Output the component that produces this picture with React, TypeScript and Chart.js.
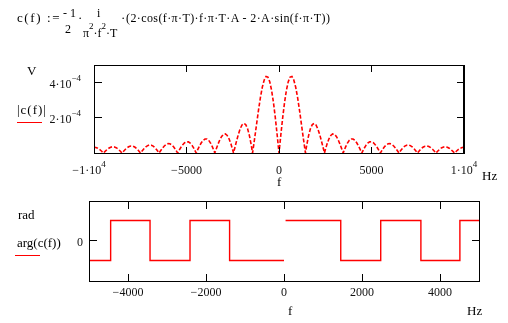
import React, { useEffect, useRef } from "react";
import { Chart, registerables } from "chart.js";

Chart.register(...registerables);

// |c(f)| — frequency (Hz) and magnitude (units of 1e-4 V)
const magFreqNegHz = [
  -10000, -9900, -9800, -9700, -9600, -9500, -9489,
  -9400, -9300, -9200, -9100, -9000, -8900, -8800, -8700, -8600, -8500, -8488,
  -8400, -8300, -8200, -8100, -8000, -7900, -7800, -7700, -7600, -7500, -7487,
  -7400, -7300, -7200, -7100, -7000, -6900, -6800, -6700, -6600, -6500, -6484,
  -6400, -6300, -6200, -6100, -6000, -5900, -5800, -5700, -5600, -5500, -5482,
  -5400, -5300, -5200, -5100, -5000, -4900, -4800, -4700, -4600, -4500, -4477,
  -4400, -4300, -4200, -4100, -4000, -3900, -3800, -3700, -3600, -3500, -3471,
  -3400, -3300, -3200, -3100, -3000, -2900, -2800, -2700, -2600, -2500, -2459,
  -2400, -2300, -2200, -2100, -2000, -1900, -1800, -1700, -1600, -1500, -1430,
  -1400, -1300, -1200, -1100, -1000, -900, -800, -700, -600, -500, -400, -300, -200, -100,
];
const magNegE4 = [
  0.318, 0.309, 0.269, 0.202, 0.113, 0.011, 0,
  0.094, 0.192, 0.273, 0.329, 0.354, 0.344, 0.3, 0.226, 0.127, 0.014, 0,
  0.103, 0.214, 0.305, 0.369, 0.398, 0.388, 0.34, 0.257, 0.146, 0.018, 0,
  0.115, 0.241, 0.346, 0.42, 0.455, 0.445, 0.392, 0.298, 0.171, 0.024, 0,
  0.13, 0.276, 0.4, 0.488, 0.531, 0.522, 0.462, 0.353, 0.206, 0.033, 0,
  0.149, 0.324, 0.473, 0.582, 0.637, 0.631, 0.562, 0.435, 0.259, 0.05, 0,
  0.174, 0.391, 0.579, 0.72, 0.796, 0.797, 0.719, 0.566, 0.348, 0.083, 0,
  0.206, 0.492, 0.747, 0.944, 1.061, 1.081, 0.996, 0.805, 0.521, 0.162, 0,
  0.243, 0.659, 1.047, 1.371, 1.592, 1.68, 1.614, 1.384, 0.991, 0.45, 0,
  0.211, 0.954, 1.732, 2.493, 3.183, 3.75, 4.15, 4.346, 4.316, 4.053, 3.563, 2.871, 2.013, 1.037,
];
const magFreqPosHz = [
  0, 100, 200, 300, 400, 500, 600, 700, 800, 900, 1000, 1100, 1200, 1300, 1400, 1430,
  1500, 1600, 1700, 1800, 1900, 2000, 2100, 2200, 2300, 2400, 2459,
  2500, 2600, 2700, 2800, 2900, 3000, 3100, 3200, 3300, 3400, 3471,
  3500, 3600, 3700, 3800, 3900, 4000, 4100, 4200, 4300, 4400, 4477,
  4500, 4600, 4700, 4800, 4900, 5000, 5100, 5200, 5300, 5400, 5482,
  5500, 5600, 5700, 5800, 5900, 6000, 6100, 6200, 6300, 6400, 6484,
  6500, 6600, 6700, 6800, 6900, 7000, 7100, 7200, 7300, 7400, 7487,
  7500, 7600, 7700, 7800, 7900, 8000, 8100, 8200, 8300, 8400, 8488,
  8500, 8600, 8700, 8800, 8900, 9000, 9100, 9200, 9300, 9400, 9489,
  9500, 9600, 9700, 9800, 9900, 10000,
];
const magPosE4 = [
  0, 1.037, 2.013, 2.871, 3.563, 4.053, 4.316, 4.346, 4.15, 3.75, 3.183, 2.493, 1.732, 0.954, 0.211, 0,
  0.45, 0.991, 1.384, 1.614, 1.68, 1.592, 1.371, 1.047, 0.659, 0.243, 0,
  0.162, 0.521, 0.805, 0.996, 1.081, 1.061, 0.944, 0.747, 0.492, 0.206, 0,
  0.083, 0.348, 0.566, 0.719, 0.797, 0.796, 0.72, 0.579, 0.391, 0.174, 0,
  0.05, 0.259, 0.435, 0.562, 0.631, 0.637, 0.582, 0.473, 0.324, 0.149, 0,
  0.033, 0.206, 0.353, 0.462, 0.522, 0.531, 0.488, 0.4, 0.276, 0.13, 0,
  0.024, 0.171, 0.298, 0.392, 0.445, 0.455, 0.42, 0.346, 0.241, 0.115, 0,
  0.018, 0.146, 0.257, 0.34, 0.388, 0.398, 0.369, 0.305, 0.214, 0.103, 0,
  0.014, 0.127, 0.226, 0.3, 0.344, 0.354, 0.329, 0.273, 0.192, 0.094, 0,
  0.011, 0.113, 0.202, 0.269, 0.309, 0.318,
];

// arg(c(f)) — frequency (Hz) and phase (rad) (null = gap at f = 0)
const argFreqHz = [
  -5000, -4445, -4445, -3435, -3435, -2410, -2410, -1395, -1395, 0, 20,
  40, 1455, 1455, 2480, 2480, 3510, 3510, 4510, 4510, 5000,
];
const argRad: (number | null)[] = [
  -1.571, -1.571, 1.571, 1.571, -1.571, -1.571, 1.571, 1.571, -1.571, -1.571, null,
  1.571, 1.571, -1.571, -1.571, 1.571, 1.571, -1.571, -1.571, 1.571, 1.571,
];

// ticks
const topXTicks = [-10000, -5000, 0, 5000, 10000];
const topXTickLabels: [string, string][] = [
  ["\u22121\u00b710", "4"], ["\u22125000", ""], ["0", ""], ["5000", ""], ["1\u00b710", "4"],
];
const topXLabelDx = [-5, 0, 0, 0, 0];
const topYTicks = [2, 4];
const topYTickLabels: [string, string][] = [["2\u00b710", "\u22124"], ["4\u00b710", "\u22124"]];
const botXTicks = [-4000, -2000, 0, 2000, 4000];
const botXTickLabels: [string, string][] = [
  ["\u22124000", ""], ["\u22122000", ""], ["0", ""], ["2000", ""], ["4000", ""],
];
const botXLabelDx = [0, 0, 0, 0, 0];
const botYTicks = [0];
const botYTickLabels: [string, string][] = [["0", ""]];

const SERIF = '"Liberation Serif", "Times New Roman", serif';

type FrameCfg = {
  xTicks: number[]; xLabels: [string, string][]; xDx: number[];
  yTicks: number[]; yLabels: [string, string][];
  xTickLen: number; yTickLen: number;
  xLabelGap: number; yLabelGap: number; yLabelDy: number; supRaise: number;
  thickRight?: boolean;
};

function drawLabel(ctx: CanvasRenderingContext2D, main: string, sup: string, x: number, base: number, align: "center" | "right", raise: number) {
  ctx.font = `12px ${SERIF}`;
  const wm = ctx.measureText(main).width;
  ctx.font = `9px ${SERIF}`;
  const ws = sup ? ctx.measureText(sup).width : 0;
  const total = wm + ws;
  const x0 = align === "center" ? x - total / 2 : x - total;
  ctx.textAlign = "left";
  ctx.textBaseline = "alphabetic";
  ctx.font = `12px ${SERIF}`;
  ctx.fillText(main, x0, base);
  if (sup) {
    ctx.font = `9px ${SERIF}`;
    ctx.fillText(sup, x0 + wm, base - raise);
  }
}

function framePlugin(cfg: FrameCfg) {
  return {
    id: "mcFrame",
    afterDatasetsDraw(chart: any) {
      const { ctx, chartArea: a, scales } = chart;
      const xs = scales.x, ys = scales.y;
      ctx.save();
      ctx.strokeStyle = "#000";
      ctx.lineWidth = 1;
      ctx.strokeRect(a.left + 0.5, a.top + 0.5, a.right - a.left, a.bottom - a.top);
      ctx.beginPath();
      if (cfg.thickRight) {
        ctx.moveTo(a.right - 0.5, a.top);
        ctx.lineTo(a.right - 0.5, a.bottom + 1);
      }
      cfg.xTicks.forEach((v) => {
        const p = Math.floor(xs.getPixelForValue(v)) + 0.5;
        ctx.moveTo(p, a.top);
        ctx.lineTo(p, a.top + cfg.xTickLen);
        ctx.moveTo(p, a.bottom + 1);
        ctx.lineTo(p, a.bottom + 1 - cfg.xTickLen);
      });
      cfg.yTicks.forEach((v) => {
        const p = Math.floor(ys.getPixelForValue(v)) + 0.5;
        ctx.moveTo(a.left, p);
        ctx.lineTo(a.left + cfg.yTickLen, p);
        ctx.moveTo(a.right + 1, p);
        ctx.lineTo(a.right + 1 - cfg.yTickLen, p);
      });
      ctx.stroke();
      ctx.fillStyle = "#111";
      cfg.xTicks.forEach((v, i) => {
        const [m, s] = cfg.xLabels[i];
        drawLabel(ctx, m, s, xs.getPixelForValue(v) + cfg.xDx[i], a.bottom + cfg.xLabelGap, "center", cfg.supRaise);
      });
      cfg.yTicks.forEach((v, i) => {
        const [m, s] = cfg.yLabels[i];
        drawLabel(ctx, m, s, a.left - cfg.yLabelGap, Math.floor(ys.getPixelForValue(v)) + cfg.yLabelDy, "right", cfg.supRaise - 0.5);
      });
      ctx.restore();
    },
  };
}

function Txt(props: { x: number; b: number; size?: number; ls?: number; children: React.ReactNode }) {
  const size = props.size ?? 13;
  return (
    <div
      style={{
        position: "absolute",
        left: props.x,
        top: props.b - 0.8375 * size,
        fontSize: size,
        lineHeight: `${size}px`,
        fontFamily: SERIF,
        whiteSpace: "nowrap",
        letterSpacing: props.ls ?? 0,
        color: "#000",
      }}
    >
      {props.children}
    </div>
  );
}

const supStyle: React.CSSProperties = { fontSize: 9, position: "relative", top: -8 };

export default function App() {
  const topRef = useRef<HTMLCanvasElement>(null);
  const botRef = useRef<HTMLCanvasElement>(null);

  useEffect(() => {
    const magPts = [
      ...magFreqNegHz.map((f, i) => ({ x: f, y: magNegE4[i] })),
      ...magFreqPosHz.map((f, i) => ({ x: f, y: magPosE4[i] })),
    ];
    const argPts = argFreqHz.map((f, i) => ({ x: f, y: argRad[i] }));

    const top = new Chart(topRef.current!, {
      type: "line",
      data: {
        datasets: [
          {
            data: magPts as any,
            borderColor: "#ff0000",
            borderWidth: 1.6,
            borderDash: [4, 2],
            pointRadius: 0,
            fill: false,
            tension: 0,
          },
        ],
      },
      options: {
        animation: false,
        responsive: false,
        maintainAspectRatio: false,
        events: [],
        layout: { padding: { left: 94, top: 65, right: 44, bottom: 170 } },
        plugins: { legend: { display: false }, tooltip: { enabled: false } },
        scales: {
          x: { type: "linear", display: false, min: -10000, max: 10000 },
          y: { type: "linear", display: false, min: 0, max: 5 },
        },
      },
      plugins: [
        framePlugin({
          xTicks: topXTicks, xLabels: topXTickLabels, xDx: topXLabelDx,
          yTicks: topYTicks, yLabels: topYTickLabels,
          xTickLen: 7, yTickLen: 8, xLabelGap: 21, yLabelGap: 13, yLabelDy: 5.5, supRaise: 7.5,
          thickRight: true,
        }) as any,
      ],
    });

    const bot = new Chart(botRef.current!, {
      type: "line",
      data: {
        datasets: [
          {
            data: argPts as any,
            borderColor: "#ff0000",
            borderWidth: 1.4,
            pointRadius: 0,
            fill: false,
            tension: 0,
            spanGaps: false,
          },
        ],
      },
      options: {
        animation: false,
        responsive: false,
        maintainAspectRatio: false,
        events: [],
        layout: { padding: { left: 89, top: 201, right: 29, bottom: 42 } },
        plugins: { legend: { display: false }, tooltip: { enabled: false } },
        scales: {
          x: { type: "linear", display: false, min: -5000, max: 5000 },
          y: { type: "linear", display: false, min: -3.18, max: 3.1 },
        },
      },
      plugins: [
        framePlugin({
          xTicks: botXTicks, xLabels: botXTickLabels, xDx: botXLabelDx,
          yTicks: botYTicks, yLabels: botYTickLabels,
          xTickLen: 8, yTickLen: 8, xLabelGap: 14.5, yLabelGap: 6, yLabelDy: 6, supRaise: 7,
        }) as any,
      ],
    });

    return () => {
      top.destroy();
      bot.destroy();
    };
  }, []);

  const canvasStyle: React.CSSProperties = { position: "absolute", left: 0, top: 0, width: 508, height: 323 };

  return (
    <div style={{ position: "absolute", left: 0, top: 0, width: 508, height: 323, background: "#fff", overflow: "hidden" }}>
      <canvas ref={topRef} width={508} height={323} style={canvasStyle} />
      <canvas ref={botRef} width={508} height={323} style={canvasStyle} />

      {/* formula */}
      <Txt x={17} b={22} size={13} ls={1.6}>c(f) :=</Txt>
      <Txt x={63} b={17} size={12}>- 1</Txt>
      <Txt x={65} b={33} size={12}>2</Txt>
      <Txt x={78} b={22} size={13}>·</Txt>
      <Txt x={97} b={17} size={12}>i</Txt>
      <Txt x={83} b={37} size={12}>
        π<span style={supStyle}>2</span>·f<span style={supStyle}>2</span>·T
      </Txt>
      <Txt x={121} b={22} size={13}>·</Txt>
      <Txt x={126} b={22} size={12} ls={0.4}>(2·cos(f·π·T)·f·π·T·A - 2·A·sin(f·π·T))</Txt>

      {/* upper plot labels */}
      <Txt x={27} b={75}>V</Txt>
      <Txt x={17} b={113.5} ls={1}>|c(f)|</Txt>
      <div style={{ position: "absolute", left: 17, top: 122, width: 25, height: 1, background: "#ff0000" }} />
      <Txt x={277} b={186}>f</Txt>
      <Txt x={482} b={180}>Hz</Txt>

      {/* lower plot labels */}
      <Txt x={18} b={219}>rad</Txt>
      <Txt x={17} b={246.5}>arg(c(f))</Txt>
      <div style={{ position: "absolute", left: 15, top: 255, width: 25, height: 1, background: "#ff0000" }} />
      <Txt x={288} b={314.5}>f</Txt>
      <Txt x={467} b={314.5}>Hz</Txt>
    </div>
  );
}
